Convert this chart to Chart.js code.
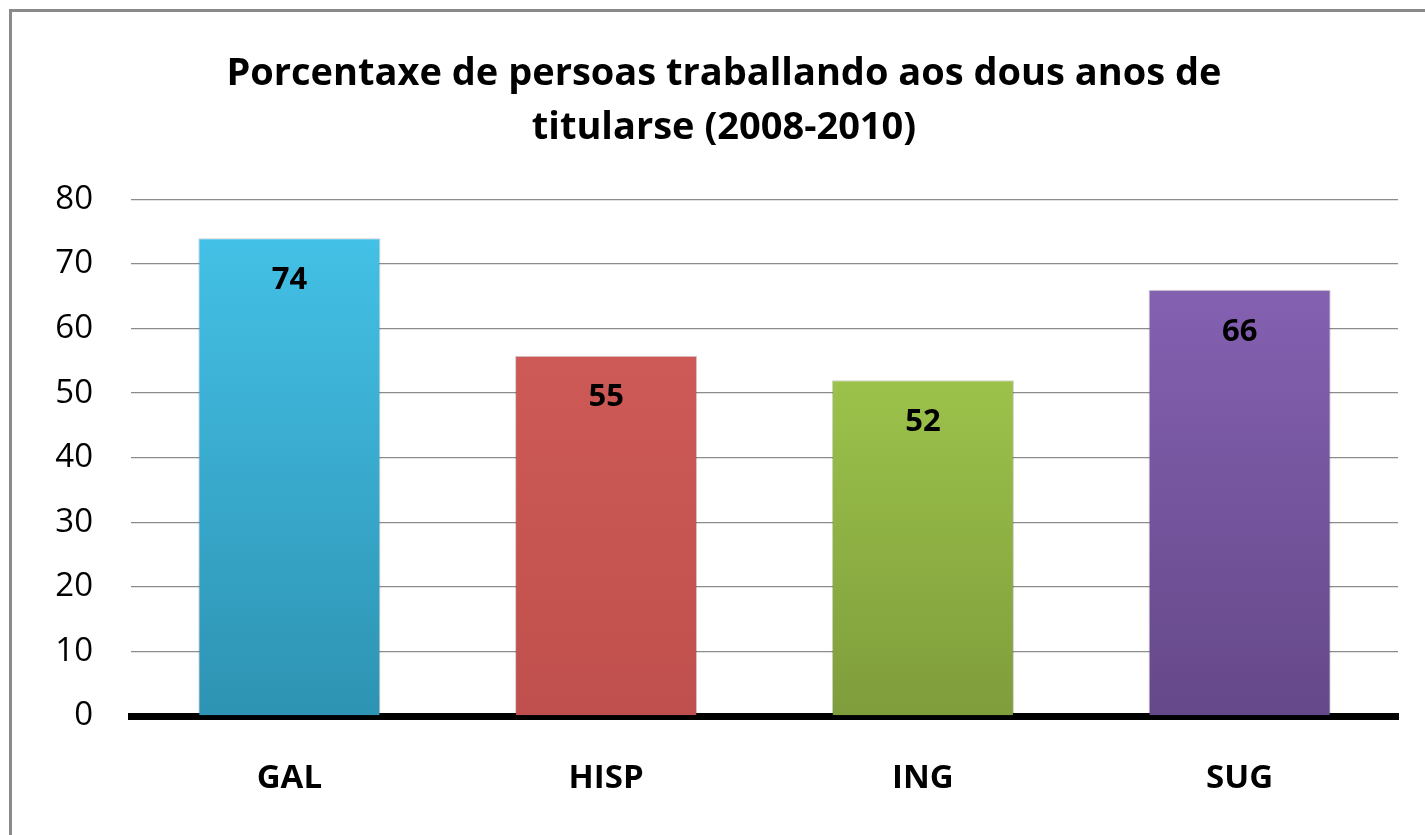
<!DOCTYPE html>
<html>
<head>
<meta charset="utf-8">
<script src="https://cdn.jsdelivr.net/npm/chart.js@4/dist/chart.umd.min.js"></script>
<style>
    html, body { margin: 0; padding: 0; background: #fff; overflow: hidden; }
    #wrap { position: relative; width: 1425px; height: 835px; }
    #frame { position: absolute; left: 9px; top: 9px; width: 1430px; height: 840px; border: 3px solid #8a8a8a; box-sizing: border-box; pointer-events: none; }
</style>
</head>
<body>
<div id="wrap">
    <canvas id="chart" width="1425" height="835"></canvas>
    <div id="frame"></div>
</div>
<script>
// 数据
const categories = ['GAL', 'HISP', 'ING', 'SUG'];
const values = [74, 55.8, 52, 66];
const valueLabels = ['74', '55', '52', '66'];
const yTicks = [0, 10, 20, 30, 40, 50, 60, 70, 80];

// 每个柱子的渐变色 (上, 下)
const barColors = [
    ['#45c4ea', '#2e93b3'],
    ['#d35e5b', '#c0504d'],
    ['#abd652', '#7f9d3c'],
    ['#8b66ba', '#654889']
];

const FONT = '"Open Sans", sans-serif';

// 柱顶数值标签
const valueLabelPlugin = {
    id: 'valueLabels',
    afterDatasetsDraw(chart) {
        const ctx = chart.ctx;
        const meta = chart.getDatasetMeta(0);
        ctx.save();
        ctx.font = 'bold 31px ' + FONT;
        ctx.fillStyle = '#000';
        ctx.textAlign = 'center';
        ctx.textBaseline = 'middle';
        meta.data.forEach((bar, i) => {
            ctx.fillText(valueLabels[i], bar.x, bar.y + 42);
        });
        ctx.restore();
    }
};

const ctx = document.getElementById('chart').getContext('2d');

new Chart(ctx, {
    type: 'bar',
    data: {
        labels: categories,
        datasets: [{
            data: values,
            backgroundColor: function(c) {
                const area = c.chart.chartArea;
                const col = barColors[c.dataIndex % barColors.length];
                if (!area) return col[0];
                const g = c.chart.ctx.createLinearGradient(0, area.top, 0, area.bottom);
                g.addColorStop(0, col[0]);
                g.addColorStop(1, col[1]);
                return g;
            },
            borderColor: 'rgba(0,0,0,0.18)',
            borderWidth: 1,
            barPercentage: 0.575,
            categoryPercentage: 1.0
        }]
    },
    options: {
        responsive: false,
        animation: false,
        layout: { padding: { left: 50, right: 27, top: 0, bottom: 0 } },
        plugins: {
            legend: { display: false },
            tooltip: { enabled: false },
            title: {
                display: true,
                text: ['Porcentaxe de persoas traballando aos dous anos de', 'titularse (2008-2010)'],
                color: '#000',
                font: { family: FONT, size: 38, weight: 'bold', lineHeight: 1.4 },
                padding: { top: 48, bottom: 45 }
            }
        },
        scales: {
            y: {
                min: 0,
                max: 80,
                afterBuildTicks(scale) {
                    scale.ticks = yTicks.map(v => ({ value: v }));
                },
                afterFit(scale) { scale.width = 81; },
                grid: { color: '#8c8c8c', lineWidth: 1.3, drawTicks: false },
                border: { display: false },
                ticks: {
                    color: '#000',
                    font: { family: FONT, size: 33 },
                    padding: 38
                }
            },
            x: {
                z: 1,
                afterFit(scale) { scale.height = 119; },
                grid: { display: false, drawTicks: false },
                border: { display: true, color: '#000', width: 7 },
                ticks: {
                    color: '#000',
                    font: { family: FONT, size: 33, weight: 'bold' },
                    padding: 43
                }
            }
        }
    },
    plugins: [valueLabelPlugin]
});
</script>
</body>
</html>
